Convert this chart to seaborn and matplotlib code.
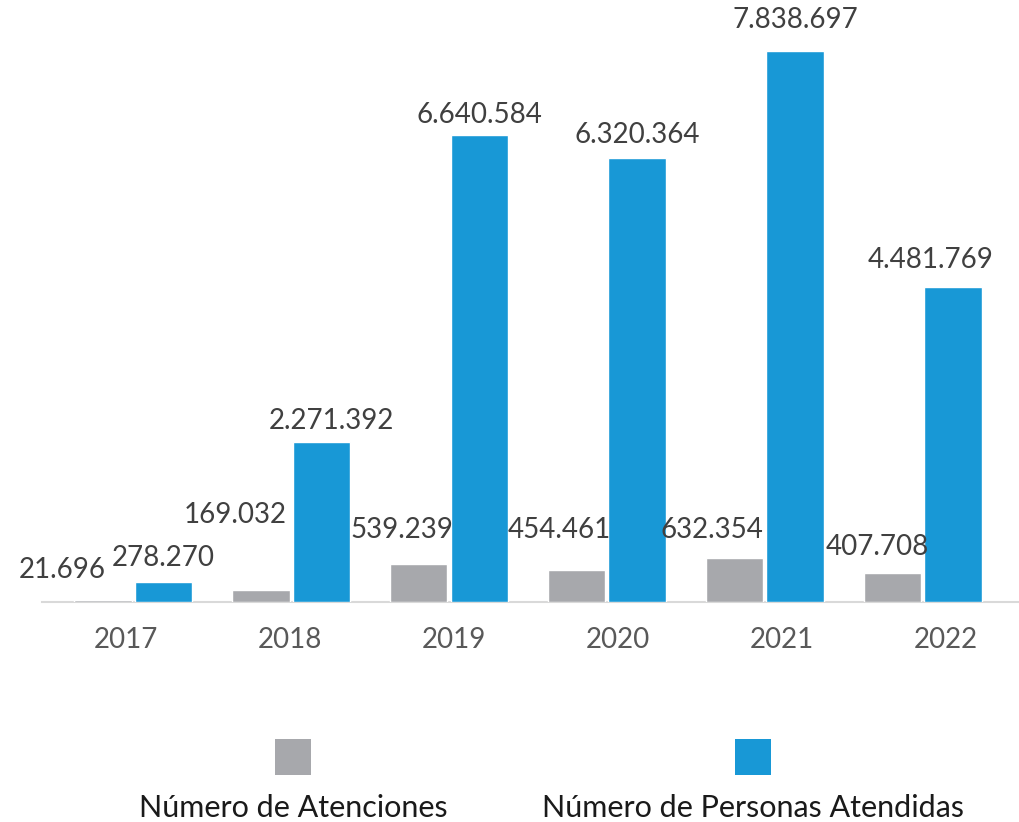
import pandas as pd
import numpy as np
import seaborn as sns
import matplotlib
matplotlib.use('Agg')
import matplotlib.pyplot as plt
from matplotlib.patches import Rectangle
from matplotlib.transforms import ScaledTranslation

# Data
years = ['2017', '2018', '2019', '2020', '2021', '2022']
atenciones = [21696, 169032, 539239, 454461, 632354, 407708]
personas = [278270, 2271392, 6640584, 6320364, 7838697, 4481769]
series = ['Número de Atenciones', 'Número de Personas Atendidas']
colors = ['#A7A8AC', '#1898D6']

df = pd.DataFrame({
    'year': years * 2,
    'value': atenciones + personas,
    'serie': [series[0]] * len(years) + [series[1]] * len(years),
})

sns.set_style('white')
plt.rcParams['font.family'] = ['Lato', 'DejaVu Sans']

fig = plt.figure(figsize=(10.2, 8.22), dpi=100)
ax = fig.add_axes([42 / 1020, 1 - 602 / 822, 1 - 42 / 1020, 602 / 822])

sns.barplot(data=df, x='year', y='value', hue='serie', palette=colors,
            width=0.76, gap=0.05, ax=ax, legend=False, saturation=1, zorder=3)

ax.set_xlim(-0.576, 5.614)
ax.set_ylim(0, 7838697 * 602 / 551)
ax.set_xlabel('')
ax.set_ylabel('')
ax.set_yticks([])
ax.tick_params(axis='x', length=0, labelsize=20, labelcolor='#595959', pad=18)
for s in ['top', 'right', 'left']:
    ax.spines[s].set_visible(False)
ax.spines['bottom'].set_color('#D9D9D9')
ax.spines['bottom'].set_linewidth(1.5)
ax.spines['bottom'].set_zorder(1)

# year labels in the original drift a bit to the right of the bars
for i, t in enumerate(ax.get_xticklabels()):
    t.set_transform(t.get_transform() + ScaledTranslation((6 * i - 7) / 100, 0, fig.dpi_scale_trans))

def fmt(v):
    return f'{v:,}'.replace(',', '.')

# label offsets in pixels (dx, dy) relative to bar top centre
offs = [
    [(-41, 30), (-26, 75), (-17, 34), (-18, 40), (-23, 28), (-16, 26)],
    [(0, 24), (10, 21), (0, 20), (0, 23), (0, 31), (-22, 27)],
]
for i, cont in enumerate(ax.containers):
    for j, bar in enumerate(cont):
        x = bar.get_x() + bar.get_width() / 2
        y = bar.get_height()
        dx, dy = offs[i][j]
        ax.annotate(fmt(int(round(y))), (x, y), xytext=(dx, dy),
                    textcoords='offset pixels', ha='center', va='center',
                    fontsize=20, color='#404040', annotation_clip=False)

# legend below chart
W, H = 1020, 822
for (cx, label), c in zip([(293, series[0]), (753, series[1])], colors):
    fig.add_artist(Rectangle(((cx - 18) / W, 1 - 775 / H), 36 / W, 36 / H,
                             transform=fig.transFigure, color=c, lw=0))
    fig.text(cx / W, 1 - 808 / H, label, ha='center', va='center',
             fontsize=22, color='#1A1A1A')

plt.savefig('out.png', dpi=100)
